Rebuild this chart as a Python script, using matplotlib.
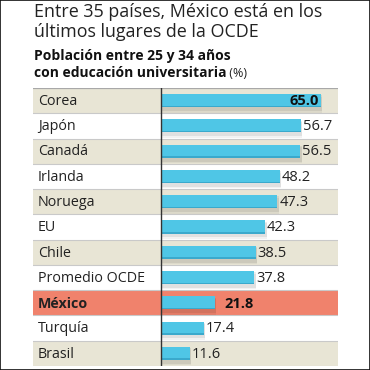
import matplotlib
matplotlib.use("Agg")
import matplotlib.pyplot as plt
from matplotlib.patches import Rectangle
import matplotlib.transforms as mtransforms

countries = ["Corea", "Japón", "Canadá", "Irlanda", "Noruega", "EU", "Chile",
             "Promedio OCDE", "México", "Turquía", "Brasil"]
values = [65.0, 56.7, 56.5, 48.2, 47.3, 42.3, 38.5, 37.8, 21.8, 17.4, 11.6]
highlight = "México"
title_lines = ["Entre 35 países, México está en los", "últimos lugares de la OCDE"]
subtitle_lines = ["Población entre 25 y 34 años", "con educación universitaria"]
unit = " (%)"

FONT = "Open Sans"
plt.rcParams['font.family'] = [FONT, 'DejaVu Sans']

W = H = 370
fig = plt.figure(figsize=(W / 100, H / 100), dpi=100)
fig.patch.set_facecolor("white")

def fy(py):
    return 1 - py / H

def fx(px):
    return px / W

# Titles
fig.text(fx(34), fy(17), title_lines[0], fontsize=12.9, color="#222222", va="baseline", ha="left")
fig.text(fx(34), fy(37), title_lines[1], fontsize=12.9, color="#222222", va="baseline", ha="left")
fig.text(fx(34), fy(60), subtitle_lines[0], fontsize=10.0, fontweight="bold", color="#111111",
         va="baseline", ha="left")
t = fig.text(fx(34), fy(77), subtitle_lines[1], fontsize=10.0, fontweight="bold", color="#111111",
             va="baseline", ha="left")
fig.canvas.draw()
bb = t.get_window_extent()
fig.text(bb.x1 / W, fy(77), unit, fontsize=9.0, color="#222222", va="baseline", ha="left")

# Table axes
left_px, right_px, top_px, bot_px = 33, 338, 88, 366
zero_px = 161
ax = fig.add_axes([fx(left_px), fy(bot_px), (right_px - left_px) / W, (bot_px - top_px) / H])
scale = 160 / 65.0  # px per unit
xmin = -(zero_px - left_px) / scale
xmax = (right_px - zero_px) / scale
n = len(countries)
ax.set_xlim(xmin, xmax)
ax.set_ylim(n - 0.5, -0.5)
ax.axis("off")

for i, (c, v) in enumerate(zip(countries, values)):
    if c == highlight:
        col = "#f0826c"
    elif i % 2 == 0:
        col = "#e8e5d5"
    else:
        col = "white"
    ax.axhspan(i - 0.5, i + 0.5, color=col, zorder=0, lw=0)
    if i < n - 1:
        ax.axhline(i + 0.5, color="#c9c9c9", lw=0.8, zorder=1)

ax.axhline(-0.5, color="#a8a8a8", lw=1.6, zorder=1)
ax.axhline(n - 0.5, color="#c9c9c9", lw=0.8, zorder=1)

ys = list(range(n))
bh = 0.52
# soft shadow
for k, a in [(0.16, 0.05), (0.10, 0.07)]:
    ax.barh([y + k for y in ys], values, height=bh + 0.1, left=0.6, color="#000000",
            alpha=a, zorder=2, lw=0)
ax.barh(ys, values, height=bh, color="#4fc6e6", zorder=3, lw=0)
# slightly darker bottom edge
ax.barh([y + bh / 2 - 0.03 for y in ys], values, height=0.06, color="#3aa9cc", zorder=3.5, lw=0)
ax.axvline(0, color="#333333", lw=1.0, zorder=4)

off = mtransforms.offset_copy(ax.transData, fig=fig, x=2, y=0, units="dots")
off_b = mtransforms.offset_copy(ax.transData, fig=fig, x=10, y=0, units="dots")
inside = mtransforms.offset_copy(ax.transData, fig=fig, x=-2, y=0, units="dots")
label_x = (38 - zero_px) / scale

for i, (c, v) in enumerate(zip(countries, values)):
    bold = c == highlight
    ax.text(label_x, i + 0.03, c, fontsize=10.3, va="center", ha="left", color="#222222",
            fontweight="bold" if bold else "normal", zorder=5)
    txt = f"{v:.1f}"
    if i == 0:
        ax.text(v, i + 0.03, txt, transform=inside, fontsize=10.5, fontweight="bold", va="center",
                ha="right", color="#111111", zorder=5)
    elif bold:
        ax.text(v, i + 0.03, txt, transform=off_b, fontsize=10.5, fontweight="bold", va="center",
                ha="left", color="#111111", zorder=5)
    else:
        ax.text(v, i + 0.03, txt, transform=off, fontsize=10.5, va="center",
                ha="left", color="#222222", zorder=5)

# outer border
fig.patches.append(Rectangle((0, 0), 1, 1, transform=fig.transFigure, fill=False,
                             edgecolor="#111111", lw=1.2))

fig.savefig("out.png", dpi=100)
